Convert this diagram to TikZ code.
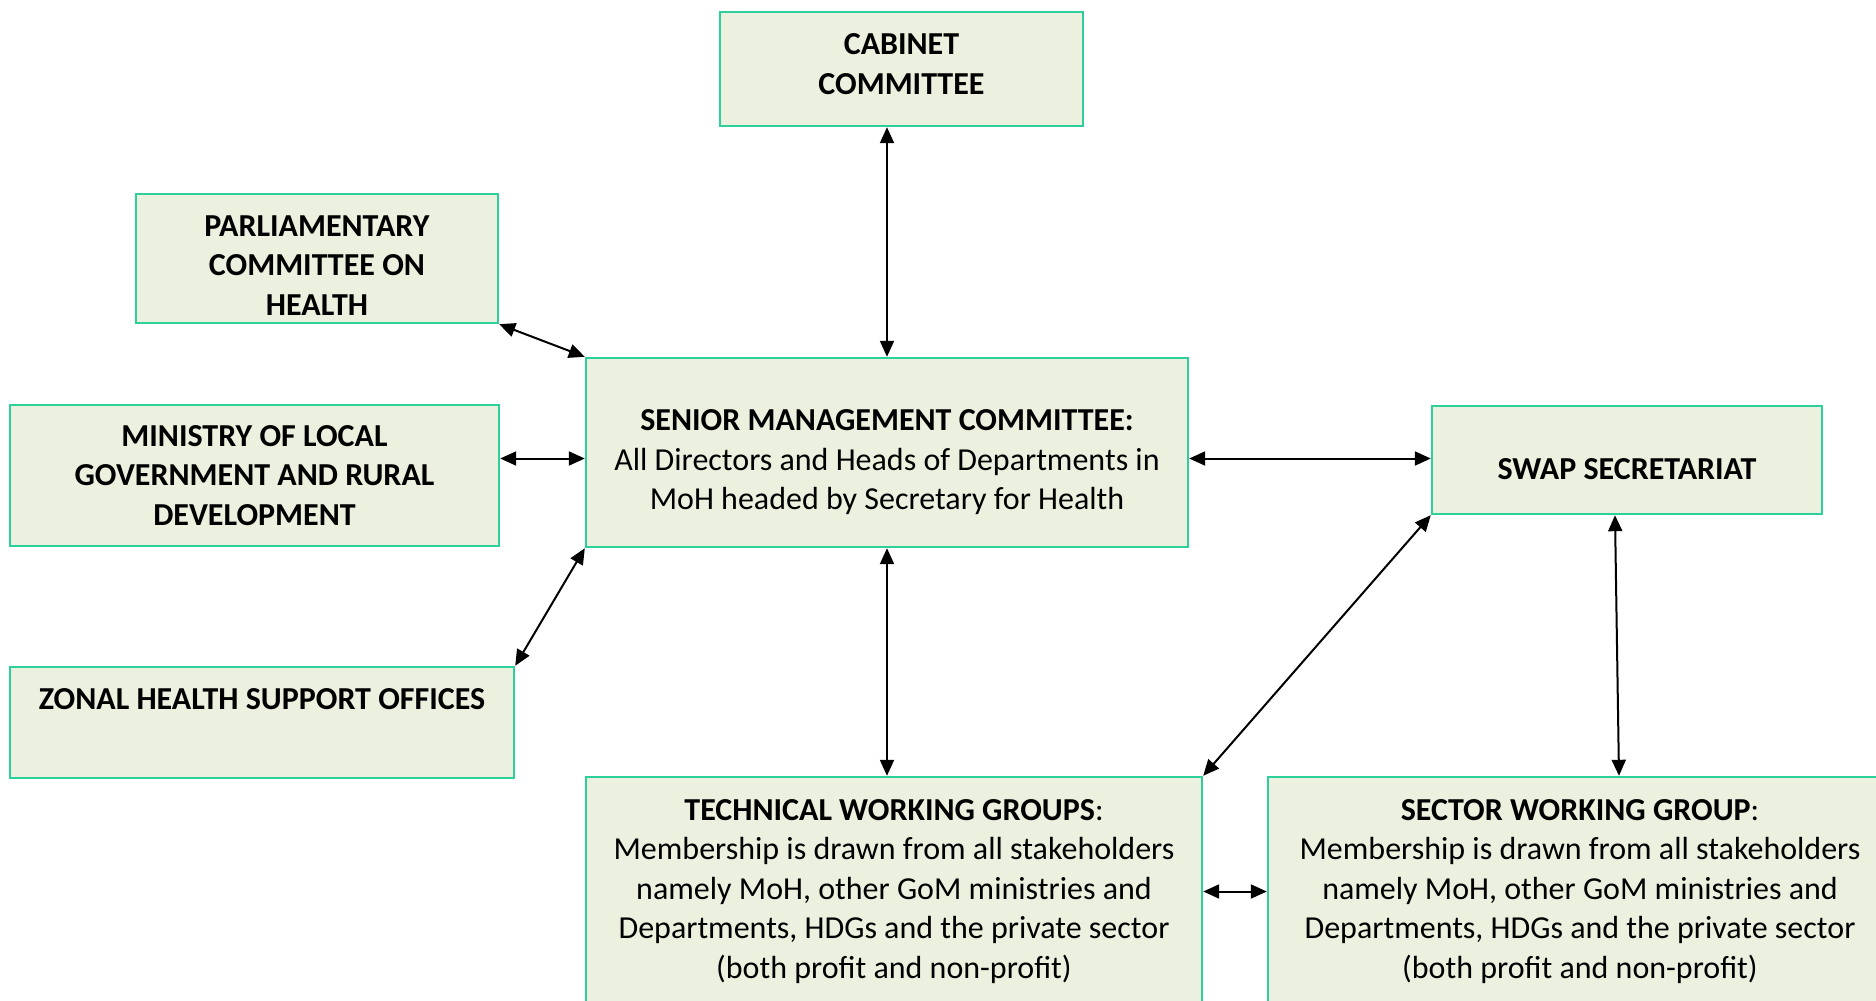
\documentclass[tikz,border=0pt]{standalone}
\usepackage{fontspec}
\setmainfont{Carlito}
\usetikzlibrary{arrows.meta}
\definecolor{boxfill}{RGB}{235,241,222}
\definecolor{boxline}{RGB}{45,208,155}

\begin{document}
\begin{tikzpicture}[x=0.5pt,y=-0.5pt,
    box/.style={draw=boxline,fill=boxfill,line width=1.2pt,align=center,inner sep=0pt,
      font=\fontsize{16}{19.75}\selectfont},
    link/.style={line width=1pt,{Triangle[length=8pt,width=7pt]}-{Triangle[length=8pt,width=7pt]}}]
    \useasboundingbox (0,0) rectangle (1876,1001);
    \clip (0,0) rectangle (1876,1001);
    \node[box,minimum width=181.5pt,minimum height=57pt] (cabinet) at (901.5,69)
      {\textbf{CABINET}\\\textbf{COMMITTEE}\rule[-5pt]{0pt}{5pt}};
    \node[box,minimum width=181pt,minimum height=64.5pt] (parl) at (317,258.5)
      {\rule{0pt}{17pt}\textbf{PARLIAMENTARY}\\\textbf{COMMITTEE ON}\\\textbf{HEALTH}};
    \node[box,minimum width=244.5pt,minimum height=70.5pt] (ministry) at (254.5,475.5)
      {\textbf{MINISTRY OF LOCAL}\\\textbf{GOVERNMENT AND RURAL}\\\textbf{DEVELOPMENT}};
    \node[box,minimum width=252pt,minimum height=55.5pt] (zonal) at (262,722.5)
      {\textbf{ZONAL HEALTH SUPPORT OFFICES}\\[4pt]\mbox{}};
    \node[box,minimum width=301pt,minimum height=94.5pt] (senior) at (887,452.5)
      {\rule{0pt}{20.5pt}\textbf{SENIOR MANAGEMENT COMMITTEE:}\\All Directors and Heads of Departments in\\MoH headed by Secretary for Health};
    \node[box,minimum width=195pt,minimum height=54pt] (swap) at (1627,460)
      {\rule{0pt}{20pt}\textbf{SWAP SECRETARIAT}};
    \node[box,minimum width=308pt,minimum height=114.5pt] (tech) at (894,891.5)
      {\textbf{TECHNICAL WORKING GROUPS}:\\Membership is drawn from all stakeholders\\namely MoH, other GoM ministries and\\Departments, HDGs and the private sector\\(both profit and non-profit)};
    \node[box,minimum width=312pt,minimum height=114.5pt] (sector) at (1580,891.5)
      {\textbf{SECTOR WORKING GROUP}:\\Membership is drawn from all stakeholders\\namely MoH, other GoM ministries and\\Departments, HDGs and the private sector\\(both profit and non-profit)};

    \draw[link] (senior.north |- cabinet.south) -- (senior.north);
    \draw[link] (parl.south east) -- (senior.north west);
    \draw[link] ([yshift=-3pt]senior.west -| ministry.east) -- ([yshift=-3pt]senior.west);
    \draw[link] (senior.south west) -- (zonal.north east);
    \draw[link] (senior.south) -- (senior.south |- tech.north);
    \draw[link] ([yshift=-3pt]senior.east) -- ([yshift=-3pt]senior.east -| swap.west);
    \draw[link] (swap.south west) -- (tech.north east);
    \draw[link] ([xshift=-6pt]swap.south) -- ([xshift=19.5pt]sector.north);
    \draw[link] (tech.east) -- (tech.east -| sector.west);
  \end{tikzpicture}
\end{document}
